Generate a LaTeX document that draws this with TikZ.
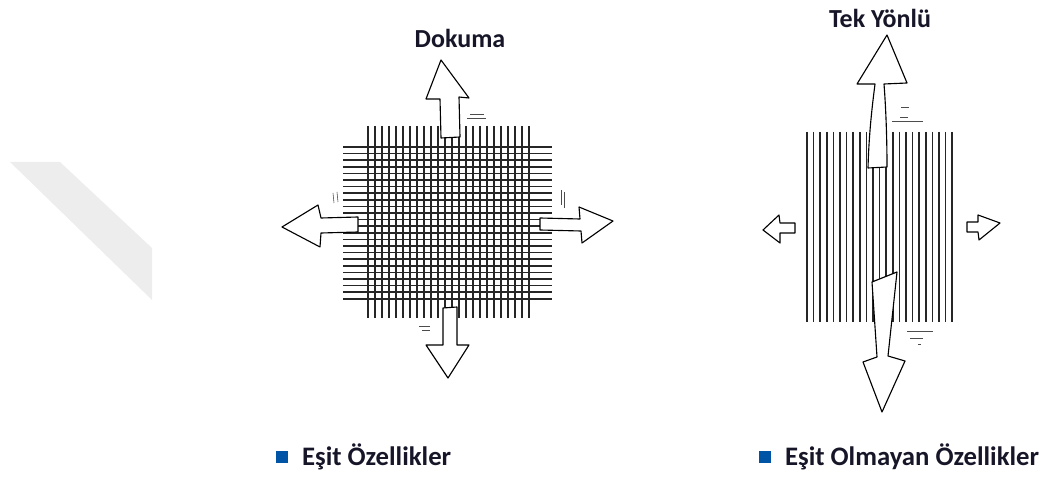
\documentclass[tikz,border=0pt]{standalone}
\usepackage{fontspec}
\setmainfont{Carlito}
\usepackage{xcolor}
\usepackage{tikz}
\usetikzlibrary{positioning}
\definecolor{titleink}{RGB}{22,22,40}
\definecolor{legendblue}{RGB}{0,84,166}
\tikzset{
    title/.style={font=\bfseries\fontsize{18.5}{22}\selectfont, text=titleink, inner sep=0pt},
    legend/.style={font=\bfseries\fontsize{19}{22}\selectfont, text=titleink, inner sep=0pt, anchor=west},
    marker/.style={fill=legendblue, minimum size=0.3cm, inner sep=0pt},
    blockarrow/.style={draw, fill=white, line width=0.8pt, line join=round},
    yarn/.style={line width=1.4pt, black!85},
    tick/.style={line width=0.4pt, black!70}
}

\begin{document}
\begin{tikzpicture}[x=0.025cm, y=-0.025cm]
\useasboundingbox (0,0) rectangle (1044,484);

% faint band at the left edge
\fill[black!7] (10,162) -- (60,162) -- (152,248) -- (152,300) -- cycle;

% woven sheet
\foreach \i in {0,...,23}
    \draw[yarn] (368+7*\i,126) -- (368+7*\i,318);
\foreach \j in {0,...,23}
    \draw[yarn, line width=1.1pt] (343,147+6.6*\j) -- (552,147+6.6*\j);

\draw[blockarrow] (441,138) -- (440,99) -- (426,99) -- (441,60) -- (469,98) -- (459,97) -- (460,137) -- cycle;
\draw[blockarrow] (443,308) -- (457,307) -- (457,345) -- (469,345) -- (448,378) -- (426,345) -- (443,345) -- cycle;
\draw[blockarrow] (358,217) -- (321,218) -- (318,205) -- (282,227) -- (320,247) -- (321,233) -- (358,232) -- cycle;
\draw[blockarrow] (540,218) -- (580,219) -- (579,207) -- (613,221) -- (582,243) -- (581,231) -- (540,230) -- cycle;

\draw[tick] (470,114) -- (484,114) (467,118) -- (486,118);
\draw[tick] (419,326) -- (430,326) (422,330) -- (430,330);
\draw[tick] (333,193) -- (334,203) (337,192) -- (338,202);
\draw[tick] (561,190) -- (561,205) (564,192) -- (564,208);

% unidirectional sheet
\foreach \i in {0,...,22}
    \draw[yarn, line width=1.2pt] (807+6.6*\i,132) -- (807+6.6*\i,322);

\draw[blockarrow] (868,168) .. controls (869,130) and (873,100) .. (875,84) -- (857,84) -- (887,35) -- (907,83) -- (884,84) .. controls (886,110) and (887,140) .. (887,167) -- cycle;
\draw[blockarrow] (872,282) -- (897,272) -- (888,356) -- (905,361) -- (882,412) -- (863,362) -- (877,357) -- cycle;
\draw[blockarrow] (795,223) -- (780,223) -- (779,215) -- (763,230) -- (780,243) -- (780,233) -- (795,233) -- cycle;
\draw[blockarrow] (967,222) -- (978,222) -- (978,215) -- (1000,223) -- (979,240) -- (978,232) -- (967,232) -- cycle;

\draw[tick] (901,107) -- (909,107) (900,117) -- (908,117) (892,121) -- (923,121);
\draw[tick] (907,331) -- (933,331) (910,338) -- (923,338) (918,344) -- (921,344);

\node[title]                     (dokuma)   at (460,38)   {Dokuma};
\node[title]                     (tekyonlu) at (880,18)   {Tek Yönlü};

\node[marker]                    (sqleft)   at (281.5,457) {};
\node[legend, right=0.35cm of sqleft]  (esit)    {Eşit Özellikler};
\node[marker]                    (sqright)  at (764.5,457) {};
\node[legend, right=0.35cm of sqright] (olmayan) {Eşit Olmayan Özellikler};

\end{tikzpicture}
\end{document}
